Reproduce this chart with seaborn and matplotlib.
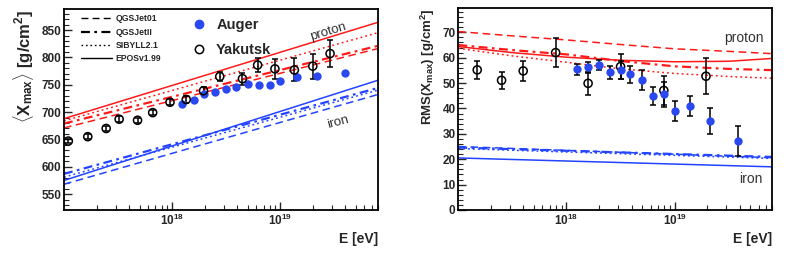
import numpy as np
import pandas as pd
import matplotlib
matplotlib.use("Agg")
import matplotlib.pyplot as plt
from matplotlib.lines import Line2D
from matplotlib.ticker import FixedLocator, MultipleLocator, LogLocator, FuncFormatter
import seaborn as sns

# ---- data ----
# <Xmax> panel
yak_logE = [17.04, 17.22, 17.39, 17.51, 17.68, 17.82, 17.98, 18.13, 18.29, 18.44, 18.65, 18.79, 18.95, 19.13, 19.30, 19.46]
yak_xmax = [647, 655, 670, 687, 685, 699, 718, 723, 739, 765, 761, 786, 779, 777, 784, 807]
yak_xmax_err = [4, 4, 4, 5, 5, 5, 5, 6, 6, 8, 11, 13, 18, 21, 23, 24]

aug_logE = [18.09, 18.20, 18.29, 18.40, 18.50, 18.59, 18.70, 18.80, 18.90, 19.00, 19.15, 19.34, 19.60]
aug_xmax = [714, 722, 733, 736, 743, 746, 751, 750, 750, 757, 764, 766, 771]

models = ["QGSJet01", "QGSJetII", "SIBYLL2.1", "EPOSv1.99"]
# line values at log10(E) = 17.0 and 19.9
line_logE = [17.0, 19.9]
xmax_proton = {"QGSJet01": [671, 816], "QGSJetII": [679, 821], "SIBYLL2.1": [684, 845], "EPOSv1.99": [688, 864]}
xmax_iron = {"QGSJet01": [568, 732], "QGSJetII": [587, 744], "SIBYLL2.1": [581, 740], "EPOSv1.99": [575, 758]}

# RMS panel
yak_rms_logE = [17.175, 17.40, 17.60, 17.90, 18.20, 18.50, 18.90, 19.29]
yak_rms = [55.2, 51.1, 54.8, 62.0, 49.9, 56.5, 47.1, 52.7]
yak_rms_err = [3.5, 3.3, 4.0, 5.7, 4.6, 5.0, 5.6, 7.0]

aug_rms_logE = [18.10, 18.20, 18.30, 18.40, 18.50, 18.59, 18.70, 18.80, 18.90, 19.00, 19.14, 19.33, 19.59]
aug_rms = [55.4, 56.2, 57.0, 54.2, 55.2, 53.5, 51.3, 44.8, 45.6, 39.0, 41.0, 35.0, 27.2]
aug_rms_err = [2.3, 2.3, 2.0, 2.5, 3.5, 3.3, 4.0, 3.5, 5.0, 4.0, 3.8, 5.0, 6.0]

rms_logE = [17.0, 17.5, 18.0, 18.5, 19.0, 19.5, 19.9]
rms_proton = {
    "QGSJet01": [70.3, 68.6, 67.0, 65.2, 63.5, 62.5, 61.6],
    "QGSJetII": [65.0, 63.0, 61.3, 58.7, 56.6, 55.6, 55.1],
    "SIBYLL2.1": [63.7, 60.7, 58.2, 55.6, 53.8, 52.6, 51.9],
    "EPOSv1.99": [64.4, 62.0, 60.2, 59.0, 58.4, 58.6, 59.7],
}
rms_iron_logE = [17.0, 19.9]
rms_iron = {"QGSJet01": [25.0, 20.6], "QGSJetII": [24.6, 20.9], "SIBYLL2.1": [24.2, 20.3], "EPOSv1.99": [20.5, 17.0]}

RED = "#ff1a1a"
BLUE = "#2244ff"
PT_BLUE = "#2a48f0"

sns.set_theme(style="ticks")
plt.rcParams["font.family"] = ["Liberation Sans", "DejaVu Sans"]
plt.rcParams["mathtext.fontset"] = "custom"
plt.rcParams["mathtext.rm"] = "Liberation Sans"
plt.rcParams["mathtext.bf"] = "Liberation Sans:bold"
plt.rcParams["mathtext.it"] = "Liberation Sans:italic"
plt.rcParams["mathtext.default"] = "bf"

dash_map = {"QGSJet01": (5, 3), "QGSJetII": (4, 2, 1.2, 2), "SIBYLL2.1": (1.2, 2), "EPOSv1.99": ""}
pal = {"proton": RED, "iron": BLUE}

fig = plt.figure(figsize=(7.88, 2.57), dpi=100)
ax1 = fig.add_axes([0.0812, 0.183, 0.3985, 0.781])
ax2 = fig.add_axes([0.5816, 0.183, 0.3985, 0.785])


def draw_models(ax, comp, d, logE):
    for m in models:
        sub = pd.DataFrame({"E": 10 ** np.array(logE), "val": d[m]})
        sns.lineplot(data=sub, x="E", y="val", color=pal[comp], ax=ax,
                     dashes=dash_map[m] if dash_map[m] else (None, None),
                     lw=1.6 if m == "QGSJetII" else 1.1, legend=False, estimator=None, sort=True)


def style_axis(ax, ylim, major, minor):
    ax.set_xscale("log")
    ax.set_xlim(1e17, 8e19)
    ax.set_ylim(*ylim)
    ax.xaxis.set_major_locator(FixedLocator([1e18, 1e19]))
    ax.xaxis.set_major_formatter(FuncFormatter(lambda v, p: r"$\mathbf{10^{%d}}$" % round(np.log10(v))))
    ax.xaxis.set_minor_locator(LogLocator(base=10, subs=np.arange(2, 10)))
    ax.xaxis.set_minor_formatter(FuncFormatter(lambda v, p: ""))
    ax.yaxis.set_major_locator(MultipleLocator(major))
    ax.yaxis.set_minor_locator(MultipleLocator(minor))
    ax.tick_params(axis="both", which="major", direction="in", length=6, width=1, labelsize=8.5,
                   top=False, right=False, pad=2)
    ax.tick_params(axis="both", which="minor", direction="in", length=3.5, width=0.8, top=False, right=False)
    for lab in ax.get_yticklabels():
        lab.set_fontweight("bold")
    for s in ax.spines.values():
        s.set_linewidth(1.3)
        s.set_color("black")


# ---- left panel ----
draw_models(ax1, "proton", xmax_proton, line_logE)
draw_models(ax1, "iron", xmax_iron, line_logE)

yak_E = 10 ** np.array(yak_logE)
aug_E = 10 ** np.array(aug_logE)
ax1.errorbar(yak_E, yak_xmax, yerr=yak_xmax_err, fmt="none", ecolor="black", elinewidth=1.1, capsize=2, capthick=1.1, zorder=3)
sns.scatterplot(x=aug_E, y=aug_xmax, ax=ax1, color=PT_BLUE, s=36, edgecolor=PT_BLUE, linewidth=0, zorder=4)
sns.scatterplot(x=yak_E, y=yak_xmax, ax=ax1, facecolor="none", edgecolor="black", s=34, linewidth=1.1, zorder=5)

style_axis(ax1, (521, 888), 50, 10)
ax1.set_xlabel("E [eV]", fontsize=10, fontweight="bold", loc="right", labelpad=3)
ax1.set_ylabel(r"$\langle\mathbf{X}_{\mathbf{max}}\rangle$ [g/cm$^{\mathbf{2}}$]", fontsize=12,
               fontweight="bold", loc="top", labelpad=4)

ax1.text(2.8e19, 846, "proton", fontsize=9.5, rotation=17, ha="center", va="center", color="#333333")
ax1.text(3.4e19, 681, "iron", fontsize=9.5, rotation=15, ha="center", va="center", color="#333333")

model_handles = [Line2D([], [], color="black", lw=1.6 if m == "QGSJetII" else 1.0,
                        dashes=dash_map[m] if dash_map[m] else (None, None)) for m in models]
leg1 = ax1.legend(model_handles, models, loc="upper left", bbox_to_anchor=(0.035, 1.005), frameon=False,
                  prop={"size": 6.2, "weight": "bold"}, handlelength=3.6, labelspacing=0.5, handletextpad=0.4,
                  borderaxespad=0.3)
ax1.add_artist(leg1)
pt_handles = [Line2D([], [], marker="o", ls="", color=PT_BLUE, markersize=6),
              Line2D([], [], marker="o", ls="", markerfacecolor="none", markeredgecolor="black", markersize=6,
                     markeredgewidth=1.1)]
ax1.legend(pt_handles, ["Auger", "Yakutsk"], loc="upper left", bbox_to_anchor=(0.35, 1.005), frameon=False,
           prop={"size": 10.5, "weight": "bold"}, handletextpad=0.2, labelspacing=0.75, borderaxespad=0.3)

# ---- right panel ----
draw_models(ax2, "proton", rms_proton, rms_logE)
draw_models(ax2, "iron", rms_iron, rms_iron_logE)

yr_E = 10 ** np.array(yak_rms_logE)
ar_E = 10 ** np.array(aug_rms_logE)
ax2.errorbar(ar_E, aug_rms, yerr=aug_rms_err, fmt="none", ecolor="black", elinewidth=1.1, capsize=2, capthick=1.1, zorder=3)
ax2.errorbar(yr_E, yak_rms, yerr=yak_rms_err, fmt="none", ecolor="black", elinewidth=1.1, capsize=2, capthick=1.1, zorder=3)
sns.scatterplot(x=yr_E, y=yak_rms, ax=ax2, facecolor="none", edgecolor="black", s=34, linewidth=1.1, zorder=4)
sns.scatterplot(x=ar_E, y=aug_rms, ax=ax2, color=PT_BLUE, s=36, edgecolor=PT_BLUE, linewidth=0, zorder=5)

style_axis(ax2, (0, 79.5), 10, 2)
ax2.set_xlabel("E [eV]", fontsize=10, fontweight="bold", loc="right", labelpad=3)
ax2.set_ylabel(r"RMS(X$_{\mathbf{max}}$) [g/cm$^{\mathbf{2}}$]", fontsize=9.5, fontweight="bold",
               loc="top", labelpad=4)
ax2.text(4.4e19, 67.8, "proton", fontsize=10, ha="center", va="center", color="#333333")
ax2.text(5.1e19, 12.2, "iron", fontsize=10, ha="center", va="center", color="#333333")

fig.savefig("out.png", dpi=100)
